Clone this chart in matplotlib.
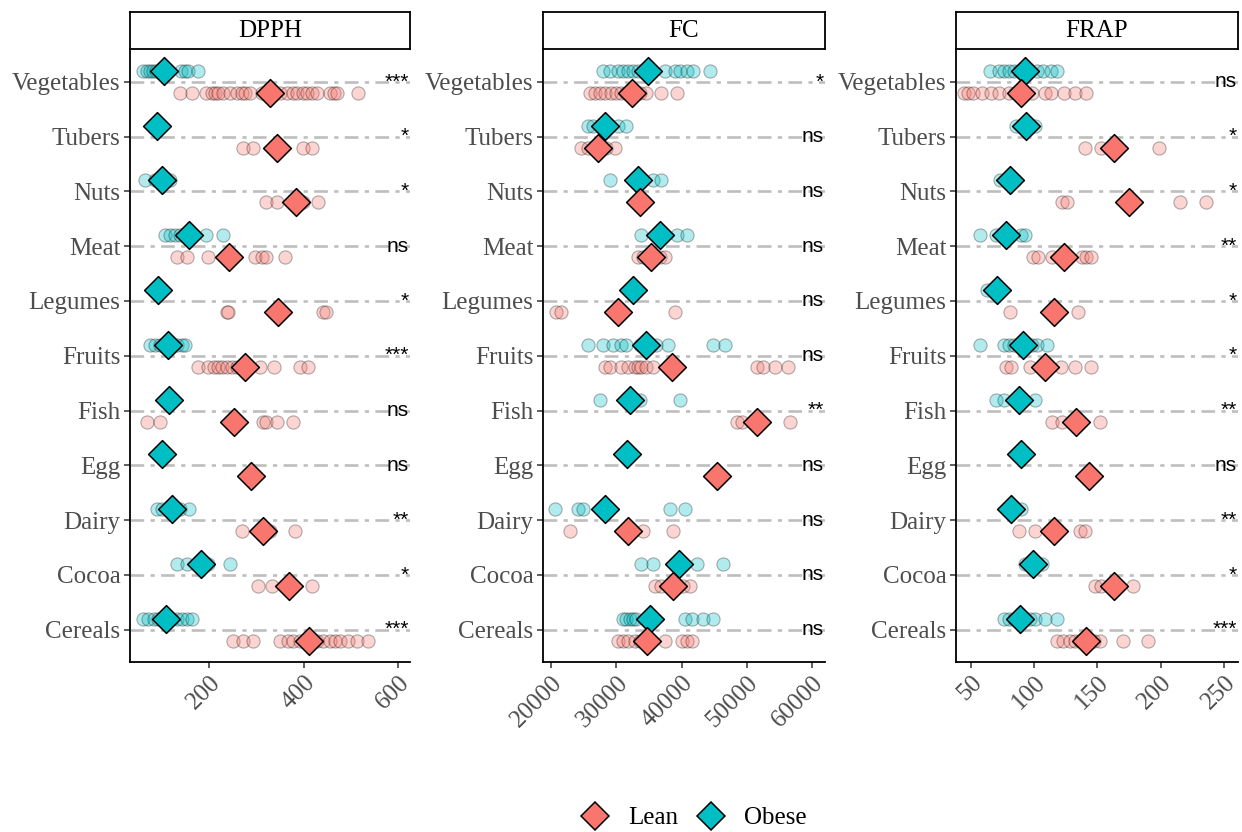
import matplotlib
matplotlib.use("Agg")
import matplotlib.pyplot as plt
from matplotlib.lines import Line2D

# Food groups, listed top to bottom
CATEGORIES = ["Vegetables", "Tubers", "Nuts", "Meat", "Legumes", "Fruits",
              "Fish", "Egg", "Dairy", "Cocoa", "Cereals"]

# ---- DPPH ----
DPPH_OBESE = [
    [60, 67, 74, 81, 88, 99, 110, 141, 148, 155, 177],
    [89],
    [64, 85, 99, 117],
    [106, 117, 127, 138, 156, 194, 230],
    [91],
    [75, 85, 96, 113, 131, 142, 149],
    [115],
    [99],
    [89, 99, 120, 138, 156],
    [131, 152, 183, 198, 244],
    [60, 71, 82, 92, 103, 108, 120, 131, 142, 152, 163],
]
DPPH_LEAN = [
    [138, 163, 194, 205, 212, 219, 230, 244, 258, 269, 276, 286, 311, 350,
     364, 378, 385, 399, 406, 417, 427, 455, 463, 470, 515],
    [272, 292, 399, 417],
    [321, 343, 385, 399, 431],
    [131, 152, 198, 297, 311, 321, 360],
    [237, 240, 441, 448],
    [177, 198, 209, 219, 226, 237, 247, 258, 307, 336, 392, 410],
    [67, 96, 314, 321, 343, 378],
    [288],
    [269, 328, 381],
    [304, 332, 417],
    [251, 272, 293, 350, 367, 378, 392, 427, 441, 455, 466, 477, 494, 512, 537],
]
DPPH_OBESE_MEAN = [104, 89, 99, 156, 91, 113, 115, 99, 120, 183, 108]
DPPH_LEAN_MEAN = [328, 343, 383, 242, 345, 276, 253, 288, 314, 369, 411]
DPPH_SIG = ["***", "*", "*", "ns", "*", "***", "ns", "ns", "**", "*", "***"]

# ---- FC ----
FC_OBESE = [
    [27943, 28969, 30251, 31020, 31789, 32558, 33328, 37430, 38968, 39738,
     40763, 41789, 44353],
    [25636, 26405, 30251, 31533],
    [28969, 35635, 36917],
    [33840, 39225, 40763],
    [32558],
    [25636, 27943, 29482, 30764, 31533, 33584, 36148, 37943, 44866, 46661],
    [27430, 33584, 39738],
    [31635],
    [20508, 24097, 24866, 38200, 40507],
    [33840, 35635, 42302, 46302],
    [31020, 31533, 32046, 32558, 33071, 40507, 41532, 43328, 44866],
]
FC_LEAN = [
    [25892, 26661, 27430, 28200, 29225, 29994, 30764, 31533, 33584, 34610,
     36917, 39225],
    [24610, 25636, 28456, 29738],
    [33200, 34200],
    [33328, 34097, 36661, 37430],
    [20764, 21533, 38968],
    [28200, 28969, 30764, 31789, 32815, 33328, 33840, 34610, 35635, 51532,
     52558, 54353, 56404],
    [48455, 49224, 56661],
    [45378],
    [22815, 34097, 38712],
    [35892, 36917, 40251, 41276],
    [30251, 31020, 31789, 32815, 33584, 37430, 39994, 40763, 41532],
]
FC_OBESE_MEAN = [34866, 28200, 33328, 36763, 32558, 34507, 32046, 31635,
                 28302, 39635, 35122]
FC_LEAN_MEAN = [32456, 27174, 33687, 35379, 30251, 38456, 51532, 45378,
                31789, 38610, 34712]
FC_SIG = ["*", "ns", "ns", "ns", "ns", "ns", "**", "ns", "ns", "ns", "ns"]

# ---- FRAP ----
FRAP_OBESE = [
    [65, 72, 76, 80, 84, 88, 102, 107, 113, 118],
    [86, 101],
    [73, 85],
    [57, 70, 90, 93],
    [63],
    [57, 76, 80, 84, 98, 102, 110],
    [70, 76, 101],
    [90],
    [90],
    [93, 106],
    [76, 80, 84, 97, 101, 109, 118],
]
FRAP_LEAN = [
    [45, 48, 52, 59, 66, 72, 80, 85, 98, 109, 113, 124, 132, 141],
    [140, 153, 199],
    [122, 126, 215, 236],
    [99, 103, 114, 138, 141, 145],
    [81, 135],
    [78, 82, 97, 121, 132, 145],
    [114, 122, 152],
    [143],
    [88, 101, 136, 140],
    [148, 153, 178],
    [118, 123, 128, 132, 136, 147, 152, 170, 190],
]
FRAP_OBESE_MEAN = [93, 94, 81, 78, 70.5, 91, 88, 90, 81.5, 99, 89]
FRAP_LEAN_MEAN = [90, 163, 175, 124, 116, 109, 133, 143, 116, 163, 141]
FRAP_SIG = ["ns", "*", "*", "**", "*", "*", "**", "ns", "**", "*", "***"]

PANEL_TITLES = ["DPPH", "FC", "FRAP"]
XTICKS = [[200, 400, 600],
          [20000, 30000, 40000, 50000, 60000],
          [50, 100, 150, 200, 250]]
XLIMS = [(32, 625), (18708, 62046), (38.4, 261)]

LEAN_COLOR = "#F8766D"
OBESE_COLOR = "#00BFC4"
GRID_COLOR = "#BEBEBE"
TEXT_GRAY = "#4D4D4D"

SERIF = ["Liberation Serif", "DejaVu Serif"]
SANS = ["Liberation Sans", "DejaVu Sans"]

W, H = 1242, 832
fig = plt.figure(figsize=(W / 100, H / 100), dpi=100)

# panel extents in pixels: (left, right)
panel_px = [(130, 410), (543, 825), (956, 1238)]
top_px, bottom_px = 49, 662
strip_top_px = 12

panels = [
    (DPPH_OBESE, DPPH_LEAN, DPPH_OBESE_MEAN, DPPH_LEAN_MEAN, DPPH_SIG),
    (FC_OBESE, FC_LEAN, FC_OBESE_MEAN, FC_LEAN_MEAN, FC_SIG),
    (FRAP_OBESE, FRAP_LEAN, FRAP_OBESE_MEAN, FRAP_LEAN_MEAN, FRAP_SIG),
]

n = len(CATEGORIES)
ypos = [n - i for i in range(n)]
offset = 0.2

for k, (obese, lean, omean, lmean, sig) in enumerate(panels):
    l, r = panel_px[k]
    ax = fig.add_axes([l / W, 1 - bottom_px / H, (r - l) / W,
                       (bottom_px - top_px) / H])
    ax.set_xlim(*XLIMS[k])
    ax.set_ylim(0.41, n + 0.6)

    for i, y in enumerate(ypos):
        ax.axhline(y, color=GRID_COLOR, lw=1.9, dashes=(5.2, 2.4, 1.6, 2.4),
                   zorder=1)
        ax.scatter(obese[i], [y + offset] * len(obese[i]), s=90,
                   c=OBESE_COLOR, edgecolors="black", linewidths=0.8,
                   alpha=0.3, zorder=2)
        ax.scatter(lean[i], [y - offset] * len(lean[i]), s=90,
                   c=LEAN_COLOR, edgecolors="black", linewidths=0.8,
                   alpha=0.3, zorder=2)
        ax.scatter([omean[i]], [y + offset], s=200, marker="D",
                   c=OBESE_COLOR, edgecolors="black", linewidths=1.1,
                   zorder=4)
        ax.scatter([lmean[i]], [y - offset], s=200, marker="D",
                   c=LEAN_COLOR, edgecolors="black", linewidths=1.1,
                   zorder=4)
        ax.text(0.995, y, sig[i], transform=ax.get_yaxis_transform(),
                ha="right", va="center", fontsize=15, family=SANS,
                color="black", zorder=5)

    ax.set_yticks(ypos)
    ax.set_yticklabels(CATEGORIES, family=SERIF)
    ax.set_xticks(XTICKS[k])
    ax.set_xticklabels([str(t) for t in XTICKS[k]], family=SERIF,
                       rotation=45, ha="right", va="top",
                       rotation_mode="anchor")
    ax.tick_params(axis="both", labelsize=18, labelcolor=TEXT_GRAY,
                   color="#333333", length=4, width=1.1, pad=3)
    for side in ("top", "right"):
        ax.spines[side].set_visible(False)
    for side in ("left", "bottom"):
        ax.spines[side].set_linewidth(1.3)
        ax.spines[side].set_color("black")

    # facet strip
    sax = fig.add_axes([l / W, 1 - top_px / H, (r - l) / W,
                        (top_px - strip_top_px) / H])
    sax.set_xticks([])
    sax.set_yticks([])
    for s in sax.spines.values():
        s.set_linewidth(1.3)
        s.set_color("black")
    sax.text(0.5, 0.48, PANEL_TITLES[k], ha="center", va="center",
             fontsize=18, family=SERIF, color="black",
             transform=sax.transAxes)

handles = [
    Line2D([], [], ls="none", marker="D", ms=14, mfc=LEAN_COLOR,
           mec="black", mew=1.1, label="Lean"),
    Line2D([], [], ls="none", marker="D", ms=14, mfc=OBESE_COLOR,
           mec="black", mew=1.1, label="Obese"),
]
fig.legend(handles=handles, loc="center",
           bbox_to_anchor=(691.5 / W, 1 - 818 / H),
           ncol=2, frameon=False, prop={"family": SERIF, "size": 18},
           handletextpad=0.57, columnspacing=0.55, handlelength=1.5)

fig.savefig("out.png", dpi=100, facecolor="white")
